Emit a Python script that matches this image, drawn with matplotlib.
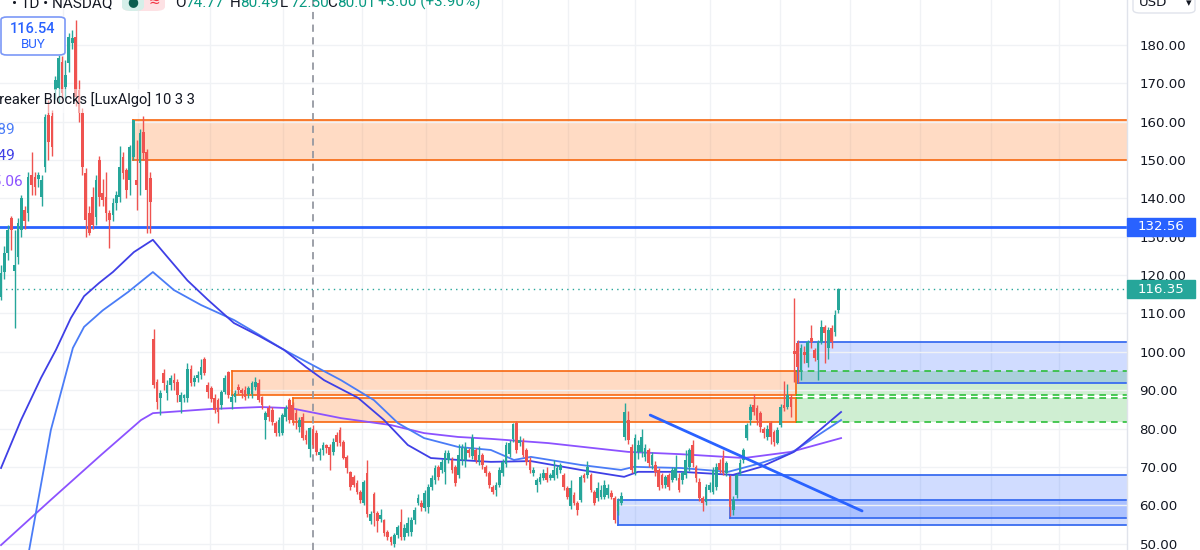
import matplotlib
matplotlib.use('agg')
import matplotlib.pyplot as plt
from matplotlib.patches import Rectangle, FancyBboxPatch
import numpy as np

# daily candles (price units)
opens = [114.3, 120.8, 125.8, 134.9, 121.0, 124.7, 131.8, 137, 136.2, 146.1,
         145.6, 145, 140.4, 148.2, 161.7, 161.5, 168.3, 168.8, 175.6, 169,
         175.3, 180.5, 182.1, 168.3, 162.3, 146.6, 136.2, 140.4, 135.2, 150,
         141.4, 140.4, 136.2, 135.7, 138.8, 140.4, 150.8, 147.4, 144.8, 150.8,
         144.8, 149.2, 157.3, 152, 145.3, 103.3, 92.1, 88, 94.5, 89.2,
         91.3, 92.6, 92, 86.9, 88, 88, 95.6, 92, 93.1, 94,
         98, 91.3, 90.5, 88, 87.4, 86.1, 89.5, 94.8, 86.8, 88.2,
         90.8, 90, 90, 89, 89, 90.8, 91.8, 88.2, 82.2, 85.3,
         84.8, 81.4, 78.8, 78.8, 83, 87.4, 86.1, 84, 80.4, 83,
         78.3, 74.77, 80, 78.8, 73.1, 74.4, 75.7, 75.2, 73.9, 78.3,
         79.6, 76.5, 72.6, 68.7, 67.4, 65.8, 63.5, 60.6, 68.4, 56,
         63, 58, 56.5, 56.1, 53, 51.7, 49.8, 52.2, 55.6, 51.7,
         52.8, 53, 56.1, 60.6, 60.6, 59.3, 59.5, 64.8, 66.6, 70,
         69.2, 68.7, 71.8, 71.8, 70, 67.9, 71.8, 71.8, 74.4, 72.8,
         74.4, 71.5, 73.1, 70, 68.4, 64.8, 64, 65.3, 68.4, 70.8,
         73.4, 77.2, 81.4, 76.2, 76.5, 74.4, 71.8, 68.4, 65.3, 66.1,
         67.1, 68.4, 67.1, 67.1, 67.9, 69.2, 67.9, 64.5, 59.8, 62.7,
         60.6, 61.4, 67.9, 67.9, 67.9, 63.5, 61.9, 62.2, 62.2, 62.7,
         63.2, 61.9, 58.5, 60.6, 77.8, 82.2, 75.2, 68.4, 74, 74,
         72.6, 74.4, 70.5, 70.5, 69.2, 67.9, 65.3, 67.9, 66.6, 67.1,
         67.1, 66.6, 67.9, 70, 75.7, 70, 66.1, 61.9, 60.8, 64,
         63.5, 64.8, 71, 72.4, 68.4, 67.4, 58.8, 62.7, 68.7, 71.8,
         77.5, 82.2, 86.1, 85.3, 84, 80, 77.8, 81.4, 79, 76.2,
         80.9, 86.1, 85.6, 88.2, 100.2, 102.3, 95.3, 100, 97, 103.6,
         100.5, 97.9, 102.5, 106.5, 101, 106.2, 105.2, 111]
highs = [122.6, 127.5, 133, 135.5, 131.8, 135, 141, 138, 147, 152,
         147, 147, 146, 162, 165.7, 163, 172, 177.5, 177, 176,
         183, 183.8, 186.5, 171, 163.5, 148, 138, 143, 146, 151,
         145, 147, 137, 140, 142, 153.7, 152, 148, 153.9, 160.4,
         155.2, 158, 161.5, 153, 147, 105.9, 93, 90, 95.6, 92.6,
         94, 94.5, 93, 89.5, 89, 97.2, 96.6, 94, 95, 98,
         98.6, 92, 91, 89, 88, 90, 94, 95, 89, 90,
         91.5, 90.5, 91, 91, 92.5, 93.5, 93, 88.5, 84.6, 86,
         85.5, 82, 83, 84, 86, 88, 87, 85, 83, 84,
         79.5, 80.49, 81, 79.5, 75, 76.5, 76, 76, 77.5, 79,
         80.5, 77, 73, 69, 68, 66.5, 64, 66.5, 71.8, 58.5,
         63.5, 58.5, 59, 56.5, 53.5, 52, 52.8, 54.8, 59, 55,
         57, 57, 59.5, 63, 61.3, 64, 65.5, 68, 70.5, 70.5,
         72, 74.5, 74.5, 72.5, 70.5, 76, 76, 76.5, 75, 78.5,
         75, 75.5, 73.6, 70.5, 69, 65.3, 66, 70, 72, 76.5,
         77, 81.5, 81.9, 78, 77.5, 75, 72.5, 70, 67, 68.5,
         69.5, 70, 68.5, 71.8, 70.5, 71, 68.5, 65, 66.5, 63.5,
         61, 68, 68.5, 71.5, 68.5, 64, 66, 65.3, 66.5, 65.5,
         64, 62.5, 62, 63.5, 86.7, 84.5, 76, 78.5, 77, 80,
         76, 75, 74, 71.5, 69.7, 68.5, 68, 68.5, 70, 73,
         68.5, 69, 74.5, 75, 77, 70.5, 67, 62.5, 65.5, 66,
         70, 71, 72, 74.5, 71.5, 68, 62.5, 68.5, 72, 75,
         81.5, 86.5, 89, 86, 84.5, 80.5, 80.8, 82, 79.5, 80.5,
         86.5, 92.5, 91.5, 89, 114, 103, 102, 101.5, 103.2, 107,
         101, 103, 108.3, 107, 106.5, 107, 111, 116.6]
lows = [113.5, 119, 124, 126.5, 106.2, 123, 130, 132, 134, 141,
        141, 143, 138, 147, 150, 151, 166, 165, 166, 166,
        173, 179, 164, 160, 146, 130, 130.5, 132, 133, 138,
        138, 134, 127, 134, 137, 139, 145, 140, 141, 150,
        137, 141, 150, 131, 131, 90.5, 85, 83.5, 90, 87.4,
        90, 90, 87, 84, 87, 87, 91, 91, 92, 93,
        94, 88, 87, 84, 81.5, 85, 89, 88, 85, 87,
        89, 88, 87.5, 88, 88, 90, 87, 85, 77.3, 82,
        81, 78, 78, 78.3, 82, 81.5, 81, 80, 79, 77,
        76, 72.50, 75, 73, 71.8, 73, 73.5, 69.2, 73, 75.5,
        75.5, 72, 68.5, 64, 64.8, 63, 60.5, 60, 57, 55,
        54.5, 53, 55.5, 52, 51, 49.5, 49, 51.5, 51, 51,
        52, 52, 55, 60, 58.5, 58.5, 58, 64, 65.5, 66.5,
        68.5, 65.5, 71, 68.5, 65, 67, 70.5, 70, 72.5, 72,
        71, 70.5, 69.5, 67.5, 64.5, 62.8, 62.5, 64.8, 67.5, 70,
        72.5, 76.5, 73.5, 75.5, 72.5, 70.5, 68.5, 67.5, 63.5, 65.5,
        66.5, 66, 66.5, 66.5, 67, 68.5, 64, 61.5, 59, 60,
        57.5, 60.8, 66, 67, 63.5, 60, 61, 61.5, 61.5, 62,
        61.5, 55.4, 57.5, 60, 77, 76, 68.5, 68, 72, 72.5,
        71.5, 70, 69.5, 67.5, 64, 64.5, 64.5, 64, 66, 66.5,
        63.5, 65.5, 67, 69, 70, 66, 61, 58.5, 60, 63.5,
        63, 64, 68.5, 68, 67.5, 57.2, 57.5, 62, 68, 71,
        77, 81, 83.5, 81, 79, 77.5, 77, 76, 75.5, 76,
        80.5, 84.5, 85, 83, 92, 91.8, 92.6, 97, 96, 101,
        97.5, 92.6, 102, 97, 98, 101, 104, 110]
closes = [120.5, 125.8, 131.8, 131.8, 122.6, 133.6, 140, 134, 145.6, 143.5,
          143, 146, 144.8, 161.2, 154.7, 153.4, 170.9, 176.6, 167.5, 172.2,
          182.1, 181.8, 166.4, 162.3, 148.2, 134.4, 131, 133, 144.8, 140.4,
          139.6, 136.2, 134.4, 138.8, 141, 148.2, 146.6, 142.2, 153.4, 160.4,
          143.5, 157, 151.8, 142.2, 139, 91.3, 86.9, 89.3, 91.8, 91.3,
          93.1, 91.8, 88.7, 88.7, 88.7, 95.6, 91.8, 93.1, 94, 96,
          94.5, 89.5, 87.8, 84.8, 84.3, 89.5, 93.1, 88.7, 88.2, 89.3,
          90, 89.2, 88.3, 90.5, 91.8, 92.1, 87.4, 86.1, 84, 83,
          81.7, 78.8, 82.2, 83.5, 85.3, 82.2, 82.2, 82.2, 82.2, 77.5,
          77.01, 80.01, 75.7, 73.9, 73.9, 75.7, 75, 73.1, 76.5, 76.5,
          76.2, 72.4, 69.7, 64.8, 65.3, 63.5, 61.4, 66, 57.6, 57.7,
          58, 56, 57.4, 52.8, 51.7, 50.4, 52.2, 54.3, 51.7, 54,
          55.4, 56.1, 58.8, 61.9, 59.5, 63.2, 64.8, 67.1, 69.7, 67.4,
          71.3, 73.6, 73.6, 69.2, 65.8, 73.1, 75, 75, 73.6, 77.5,
          71.8, 73.1, 70.5, 68.4, 65.3, 63.5, 65.3, 69.2, 71.3, 75.7,
          76.2, 81.1, 74.4, 77, 73.1, 71.3, 69.2, 69.2, 66.6, 67.4,
          68.4, 66.6, 67.9, 69.2, 69.7, 70.5, 64.8, 62.2, 64.5, 60.6,
          58.8, 67.4, 67.1, 70, 64, 60.6, 64.5, 64, 65.3, 64.5,
          62.2, 56.1, 61.1, 62.5, 84.3, 77, 69.2, 77.5, 75.7, 77.8,
          74.9, 71, 73.1, 68.7, 64.8, 65.3, 67.4, 64.8, 69.2, 69.7,
          64, 68.4, 71.8, 74.4, 71, 67.1, 61.9, 60.6, 64.8, 65.3,
          69.2, 70, 69.2, 68.4, 71, 59.5, 61.4, 67.9, 71, 74.4,
          80.9, 85.6, 84.3, 82.2, 80.4, 78.8, 80, 77.8, 76.5, 79.6,
          85.6, 85.3, 88.7, 85.6, 99.5, 96, 101, 99.2, 102.5, 102.5,
          98.4, 102.5, 106.5, 104.9, 105.7, 102.5, 109.6, 116.35]

# moving averages (bar index, value) sampled from the chart
ma1_idx = [0, 5.9, 11.8, 16.2, 20.6, 24.5, 29, 33, 39.2, 44.8, 49.3, 55, 61.1, 68.7,
           76, 83.5, 90, 95.3, 105.3, 113, 120, 126.8, 134.8, 144.5, 156.3, 171,
           183.8, 187.9, 200.6, 215.9, 224.2, 233.9, 247.8]
ma1_val = [69.7, 82.2, 93.2, 100.5, 108.8, 114.5, 118, 120.8, 126, 129.2, 124.5, 118.6,
           113.5, 107.5, 104.2, 100.5, 96, 92.6, 88, 82.2, 75.7, 72.3, 71.8, 71.3, 71.5,
           69.2, 67.4, 68.7, 68.7, 67.9, 70, 73.9, 84.3]
ma2_idx = [8.3, 14.7, 21.2, 24.5, 30, 37.5, 44.8, 51, 59, 68.7, 76, 83.5, 92, 100.3,
           110, 117.1, 124.8, 134.8, 144.5, 151.3, 156.3, 171, 182.9, 186.7, 200.6,
           214.5, 224.2, 233, 247.8]
ma2_val = [48.3, 79.6, 101, 106.5, 110.8, 115.6, 120.8, 116.1, 112.2, 108.3, 104.5, 100.5,
           96.5, 92.6, 87.4, 81.4, 77.5, 75.2, 74.4, 71.8, 72.6, 70.5, 69.2, 70, 69.7,
           68.7, 71, 73.6, 82.2]
ma3_idx = [0, 14.7, 29.5, 41.3, 44.8, 62, 76.7, 85.5, 100.3, 115, 124.8, 134.8, 144.5,
           161.4, 185, 200.6, 219.2, 233, 247.8]
ma3_val = [49.6, 61.4, 73.1, 82.2, 84, 85.1, 85.6, 85.3, 82.7, 80.9, 78.8, 77.8, 77.3,
           76.2, 73.9, 73.3, 72.3, 73.9, 77.5]
ma_labels = ['84.89', '82.49', '75.06']

# breaker blocks
bear_left = [39, 68, 86]
bear_end = [None, 234.5, 234.5]
bear_top = [160.44, 94.9, 88.0]
bear_bot = [150.0, 88.7, 81.8]
broken_top = [94.9, 88.0]
broken_bot = [88.7, 81.8]
bull_left = [235, 182, 215]
bull_top = [102.56, 61.36, 67.9]
bull_bot = [91.86, 54.8, 56.7]

trend_idx = [191.5, 254]
trend_val = [83.5, 58.5]
level = 132.56
last_price = 116.35
cursor_bar = 91
month_idx = [18.3, 40.4, 61.7, 83.2, 106.5, 125.4, 147.8, 167.3, 187, 209.1, 229.8,
             250.4, 271, 292, 312]
yticks = np.arange(50, 181, 10)

UP = '#26a69a'
DOWN = '#ef5350'
W, H = 1200, 550
PLOT_W = 1127
SP = 3.39
YTOP, YBOT = 191.73, 48.32
TXT = ['Roboto', 'DejaVu Sans']

fig = plt.figure(figsize=(12, 5.5), dpi=100)
ax = fig.add_axes([0, 0, PLOT_W / W, 1])
x0 = -0.3
x1 = x0 + PLOT_W / SP
ax.set_xlim(x0, x1)
ax.set_ylim(YBOT, YTOP)
for s in ax.spines.values():
    s.set_visible(False)
ax.set_xticks([])
ax.set_yticks(yticks)
ax.set_yticklabels(['%.2f' % v for v in yticks])
ax.yaxis.tick_right()
ax.tick_params(axis='y', length=0, pad=9, labelsize=9.6, labelcolor='#131722')
ax.grid(axis='y', color='#f0f2f5', lw=1, zorder=0)
for m in month_idx:
    ax.axvline(m, color='#f0f2f5', lw=1, zorder=0)

# boxes
for l, e, t, b in zip(bear_left, bear_end, bear_top, bear_bot):
    r = x1 if e is None else e
    ax.add_patch(Rectangle((l, b), r - l, t - b, facecolor='#ff8a3d', alpha=0.3,
                           lw=0, zorder=1))
    ax.plot([l, r], [t, t], color='#f7670f', lw=1.2, zorder=2)
    ax.plot([l, r], [b, b], color='#f7670f', lw=1.2, zorder=2)
    ax.plot([l, l], [b, t], color='#f7670f', lw=1.2, zorder=2)
    if e is not None:
        ax.plot([r, r], [b, t], color='#f7670f', lw=1.2, zorder=2)
for t, b in zip(broken_top, broken_bot):
    ax.add_patch(Rectangle((234.5, b), x1 - 234.5, t - b, facecolor='#cfeed2',
                           lw=0, zorder=1))
    ax.plot([234.5, x1], [t, t], color='#2cbf3a', lw=1.2, ls=(0, (4, 3)), zorder=2)
    ax.plot([234.5, x1], [b, b], color='#2cbf3a', lw=1.2, ls=(0, (4, 3)), zorder=2)
for l, t, b in zip(bull_left, bull_top, bull_bot):
    ax.add_patch(Rectangle((l, b), x1 - l, t - b, facecolor='#2962ff', alpha=0.22,
                           lw=0, zorder=1.5))
    ax.plot([l, x1], [t, t], color='#3a6df0', lw=1.3, zorder=2)
    ax.plot([l, x1], [b, b], color='#3a6df0', lw=1.3, zorder=2)
    ax.plot([l, l], [b, t], color='#3a6df0', lw=1.3, zorder=2)

ax.axvline(cursor_bar + 1, color='#9598a1', lw=1.3, ls=(0, (4, 3)), zorder=2)
ax.axhline(level, color='#2962ff', lw=2, zorder=3)
ax.axhline(last_price, color='#26a69a', lw=1, ls=(0, (1, 3)), zorder=3)

# moving averages
ax.plot(ma3_idx, ma3_val, color='#8c52ff', lw=1.3, zorder=3)
ax.plot(ma2_idx, ma2_val, color='#4a7cf7', lw=1.3, zorder=3)
ax.plot(ma1_idx, ma1_val, color='#3f3fe6', lw=1.3, zorder=3)

# candles
o = np.array(opens)
h = np.array(highs)
lo = np.array(lows)
c = np.array(closes)
idx = np.arange(len(o))
col = np.where(c >= o, UP, DOWN)
ax.vlines(idx, lo, h, colors=col, lw=1, zorder=4)
body = np.maximum(np.abs(c - o), 0.4)
ax.bar(idx, body, bottom=np.minimum(o, c), width=0.8, color=col, lw=0, zorder=5)

ax.plot(trend_idx, trend_val, color='#2962ff', lw=2, zorder=6, solid_capstyle='round')

# price scale
fig.add_artist(plt.Line2D([PLOT_W / W] * 2, [0, 1], color='#e0e3eb', lw=1))


def ypos(p):
    return (p - YBOT) / (YTOP - YBOT)


for p, bg in [(level, '#2962ff'), (last_price, '#26a69a')]:
    fy = ypos(p)
    fig.add_artist(Rectangle((PLOT_W / W, fy - 9 / H), 68 / W, 18 / H,
                             transform=fig.transFigure, color=bg, zorder=10))
    fig.text((PLOT_W + 34) / W, fy, '%.2f' % p, color='white', fontsize=9.6,
             ha='center', va='center', zorder=11)

fig.add_artist(FancyBboxPatch((1133 / W, 1 - 13 / H), 62 / W, 22 / H,
                              boxstyle='round,pad=0,rounding_size=0.006',
                              transform=fig.transFigure, facecolor='white',
                              edgecolor='#e0e3eb', lw=1))
fig.text(1139 / W, 1 - 6 / H, 'USD', fontsize=9.6, color='#131722', va='baseline')
fig.text(1186 / W, 1 - 6 / H, '\u25be', fontsize=8, color='#131722', va='baseline')

# header
hy = 1 - 7 / H
fig.text(112 / W, hy, '\u2022 1D \u2022 NASDAQ', fontsize=11, color='#131722',
         ha='right', va='baseline', family=TXT)
fig.add_artist(FancyBboxPatch((122 / W, 1 - 11 / H), 43 / W, 22 / H,
                              boxstyle='round,pad=0,rounding_size=0.008',
                              transform=fig.transFigure, facecolor='#fde1e4',
                              edgecolor='none'))
fig.add_artist(FancyBboxPatch((122 / W, 1 - 11 / H), 22 / W, 22 / H,
                              boxstyle='round,pad=0,rounding_size=0.008',
                              transform=fig.transFigure, facecolor='#d5efe9',
                              edgecolor='none'))
fig.text(133 / W, 1 - 2 / H, '\u25cf', fontsize=9, color='#0b5e4f', ha='center',
         va='center')
fig.text(154 / W, 1 - 2 / H, '\u2248', fontsize=10, color='#f23645', ha='center',
         va='center')
parts = [(175, 'O', '74.77'), (230, 'H', '80.49'), (280, 'L', '72.50'),
         (327, 'C', '80.01')]
for xp, k, v in parts:
    fig.text(xp / W, hy, k, fontsize=11, color='#131722', va='baseline', family=TXT)
    fig.text((xp + 10) / W, hy, v, fontsize=11, color='#089981', va='baseline',
             family=TXT)
fig.text(378 / W, hy, '+3.00 (+3.90%)', fontsize=11, color='#089981', va='baseline',
         family=TXT)

# buy button
fig.add_artist(FancyBboxPatch((1 / W, 1 - 55 / H), 64 / W, 38 / H,
                              boxstyle='round,pad=0,rounding_size=0.005',
                              transform=fig.transFigure, facecolor='white',
                              edgecolor='#7b98f7', lw=1.2, zorder=12))
fig.text(33 / W, 1 - 29 / H, '116.54', fontsize=10.5, color='#2962ff', ha='center',
         va='center', fontweight='medium', family=TXT, zorder=13)
fig.text(33 / W, 1 - 44 / H, 'BUY', fontsize=9.5, color='#2962ff', ha='center',
         va='center', family=TXT, zorder=13)

# indicator legend, with the translucent strip behind it
fig.add_artist(Rectangle((0, 1 - 113 / H), 200 / W, 24 / H, transform=fig.transFigure,
                         facecolor='white', alpha=0.5, lw=0, zorder=12))
fig.text(195 / W, 1 - 100 / H, 'Breaker Blocks [LuxAlgo] 10 3 3', fontsize=10.5,
         color='#131722', ha='right', va='center', family=TXT, zorder=13)
for lab, yy, xr, cc in zip(ma_labels, [130, 156, 182], [15, 15, 23],
                           ['#4a7cf7', '#3f3fe6', '#8c52ff']):
    fig.text(xr / W, 1 - yy / H, lab, fontsize=11, color=cc, ha='right',
             va='center', family=TXT, zorder=13)

fig.savefig('out.png', dpi=100)
